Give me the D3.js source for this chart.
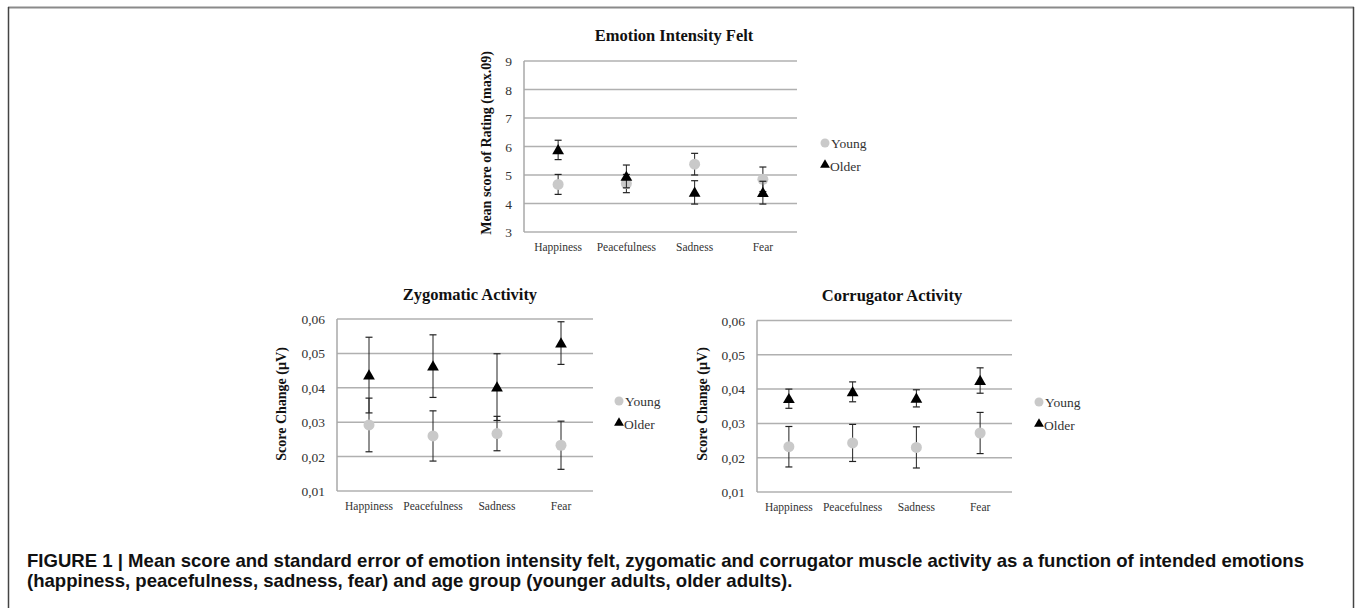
<!DOCTYPE html>
<html>
<head>
<meta charset="utf-8">
<script src="https://cdn.jsdelivr.net/npm/d3@7"></script>
<style>
  html, body { margin: 0; padding: 0; background: #fff; }
  svg { display: block; }
</style>
</head>
<body>
<svg id="chart" width="1355" height="608"></svg>
<script>
// ---------------- DATA ----------------
const categories = ["Happiness", "Peacefulness", "Sadness", "Fear"];
const seriesNames = ["Young", "Older"];

// Emotion Intensity Felt
const emotionTicks = [3, 4, 5, 6, 7, 8, 9];
const emotionYoung = [4.67, 4.70, 5.38, 4.85];
const emotionYoungSE = [0.35, 0.32, 0.38, 0.43];
const emotionOlder = [5.88, 4.95, 4.39, 4.38];
const emotionOlderSE = [0.34, 0.40, 0.41, 0.40];

// Zygomatic Activity
const muscleTicks = [0.01, 0.02, 0.03, 0.04, 0.05, 0.06];
const zygYoung = [0.0292, 0.0260, 0.0267, 0.0233];
const zygYoungSE = [0.0078, 0.0073, 0.0050, 0.0070];
const zygOlder = [0.0437, 0.0463, 0.0402, 0.0530];
const zygOlderSE = [0.0110, 0.0091, 0.0097, 0.0062];

// Corrugator Activity
const corYoung = [0.0232, 0.0243, 0.0230, 0.0272];
const corYoungSE = [0.0059, 0.0054, 0.0060, 0.0060];
const corOlder = [0.0372, 0.0392, 0.0373, 0.0425];
const corOlderSE = [0.0028, 0.0029, 0.0025, 0.0037];

const captionLines = [
  "FIGURE 1 | Mean score and standard error of emotion intensity felt, zygomatic and corrugator muscle activity as a function of intended emotions",
  "(happiness, peacefulness, sadness, fear) and age group (younger adults, older adults)."
];

// ---------------- DRAW ----------------
const svg = d3.select("#chart");
const serif = "'Liberation Serif', 'Times New Roman', serif";
const commaFmt = d3.formatLocale({decimal: ",", thousands: ".", grouping: [3], currency: ["", ""]}).format(".2f");

// frame
svg.append("line").attr("x1", 8).attr("x2", 1354).attr("y1", 7.5).attr("y2", 7.5)
  .attr("stroke", "#8a8a8a").attr("stroke-width", 2);
svg.append("line").attr("x1", 8.5).attr("x2", 8.5).attr("y1", 7).attr("y2", 608)
  .attr("stroke", "#444").attr("stroke-width", 1.5);
svg.append("line").attr("x1", 1353.5).attr("x2", 1353.5).attr("y1", 7).attr("y2", 608)
  .attr("stroke", "#444").attr("stroke-width", 1.5);

function panel(cfg) {
  const g = svg.append("g");
  const x = d3.scaleBand().domain(categories).range([cfg.x0, cfg.x1]);
  const y = d3.scaleLinear().domain(cfg.domain).range([cfg.y0, cfg.y1]);

  // gridlines
  g.selectAll("line.grid").data(cfg.ticks).enter().append("line")
    .attr("x1", cfg.x0).attr("x2", cfg.x1)
    .attr("y1", d => y(d)).attr("y2", d => y(d))
    .attr("stroke", "#b0b0b0").attr("stroke-width", 1.5);
  // left axis line
  g.append("line").attr("x1", cfg.x0).attr("x2", cfg.x0)
    .attr("y1", y(cfg.domain[0])).attr("y2", y(cfg.domain[1]))
    .attr("stroke", "#a8a8a8").attr("stroke-width", 1.5);

  // y tick labels
  g.selectAll("text.ytick").data(cfg.ticks).enter().append("text")
    .attr("x", cfg.x0 - 12).attr("y", d => y(d) + 5)
    .attr("text-anchor", "end")
    .attr("font-family", serif).attr("font-size", 13.5)
    .attr("fill", "#333")
    .text(cfg.fmt);

  // x labels
  g.selectAll("text.xlab").data(categories).enter().append("text")
    .attr("x", d => x(d) + x.bandwidth() / 2)
    .attr("y", y(cfg.domain[0]) + 19)
    .attr("text-anchor", "middle")
    .attr("font-family", serif).attr("font-size", 11.5)
    .attr("fill", "#333")
    .text(d => d);

  // title
  g.append("text").attr("x", cfg.titleX).attr("y", cfg.titleY)
    .attr("text-anchor", "middle")
    .attr("font-family", serif).attr("font-weight", "bold").attr("font-size", 16.5)
    .attr("fill", "#111").text(cfg.title);

  // y label
  g.append("text")
    .attr("transform", `translate(${cfg.ylabX},${cfg.ylabY}) rotate(-90)`)
    .attr("text-anchor", "middle")
    .attr("font-family", serif).attr("font-weight", "bold").attr("font-size", 14)
    .attr("fill", "#111").text(cfg.ylab);

  const cx = d => x(d) + x.bandwidth() / 2;
  const series = [
    {name: "Young", vals: cfg.young, se: cfg.youngSE},
    {name: "Older", vals: cfg.older, se: cfg.olderSE}
  ];
  series.forEach(s => {
    const data = categories.map((c, i) => ({c, v: s.vals[i], e: s.se[i]}));
    const eb = g.append("g");
    eb.selectAll("line.v").data(data).enter().append("line")
      .attr("x1", d => cx(d.c)).attr("x2", d => cx(d.c))
      .attr("y1", d => y(d.v - d.e)).attr("y2", d => y(d.v + d.e))
      .attr("stroke", "#222").attr("stroke-width", 1);
    [1, -1].forEach(sgn => {
      eb.selectAll("line.cap" + sgn).data(data).enter().append("line")
        .attr("x1", d => cx(d.c) - 3.5).attr("x2", d => cx(d.c) + 3.5)
        .attr("y1", d => y(d.v + sgn * d.e)).attr("y2", d => y(d.v + sgn * d.e))
        .attr("stroke", "#222").attr("stroke-width", 1.2);
    });
    if (s.name === "Young") {
      g.selectAll("circle.young" + cfg.title.length).data(data).enter().append("circle")
        .attr("cx", d => cx(d.c)).attr("cy", d => y(d.v)).attr("r", 5.5)
        .attr("fill", "#c9c9c9");
    } else {
      g.selectAll("path.older" + cfg.title.length).data(data).enter().append("path")
        .attr("d", d3.symbol().type(d3.symbolTriangle).size(60))
        .attr("transform", d => `translate(${cx(d.c)},${y(d.v) + 1})`)
        .attr("fill", "#000");
    }
  });

  // legend
  const lx = cfg.legX, ly = cfg.legY;
  g.append("circle").attr("cx", lx).attr("cy", ly).attr("r", 4.5).attr("fill", "#c9c9c9");
  g.append("text").attr("x", lx + 6).attr("y", ly + 5)
    .attr("font-family", serif).attr("font-size", 13.5).attr("fill", "#333").text(seriesNames[0]);
  g.append("path").attr("d", d3.symbol().type(d3.symbolTriangle).size(42))
    .attr("transform", `translate(${lx},${ly + 22})`).attr("fill", "#000");
  g.append("text").attr("x", lx + 5).attr("y", ly + 28)
    .attr("font-family", serif).attr("font-size", 13.5).attr("fill", "#333").text(seriesNames[1]);
}

panel({
  x0: 524, x1: 797, y0: 232, y1: 61, domain: [3, 9], ticks: emotionTicks,
  fmt: d => d3.format("d")(d),
  title: "Emotion Intensity Felt", titleX: 674, titleY: 41,
  ylab: "Mean score of Rating (max.09)", ylabX: 491, ylabY: 143,
  young: emotionYoung, youngSE: emotionYoungSE, older: emotionOlder, olderSE: emotionOlderSE,
  legX: 825, legY: 143
});

panel({
  x0: 337, x1: 593, y0: 491, y1: 319, domain: [0.01, 0.06], ticks: muscleTicks,
  fmt: d => commaFmt(d),
  title: "Zygomatic Activity", titleX: 470, titleY: 300,
  ylab: "Score Change (µV)", ylabX: 286, ylabY: 404,
  young: zygYoung, youngSE: zygYoungSE, older: zygOlder, olderSE: zygOlderSE,
  legX: 619, legY: 401
});

panel({
  x0: 757, x1: 1012, y0: 492, y1: 320.5, domain: [0.01, 0.06], ticks: muscleTicks,
  fmt: d => commaFmt(d),
  title: "Corrugator Activity", titleX: 892, titleY: 301,
  ylab: "Score Change (µV)", ylabX: 707, ylabY: 404,
  young: corYoung, youngSE: corYoungSE, older: corOlder, olderSE: corOlderSE,
  legX: 1039, legY: 402
});

// caption
const cap = svg.append("g");
const t1 = cap.append("text").attr("x", 27).attr("y", 567)
  .attr("font-family", "'Liberation Sans', Arial, sans-serif").attr("font-weight", "bold")
  .attr("font-size", 15).attr("fill", "#111").text(captionLines[0]);
const w = t1.node().getComputedTextLength();
const fs = 15 * 1278 / w;
t1.attr("font-size", fs);
cap.append("text").attr("x", 27).attr("y", 587)
  .attr("font-family", "'Liberation Sans', Arial, sans-serif").attr("font-weight", "bold")
  .attr("font-size", fs).attr("fill", "#111").text(captionLines[1]);
</script>
</body>
</html>
